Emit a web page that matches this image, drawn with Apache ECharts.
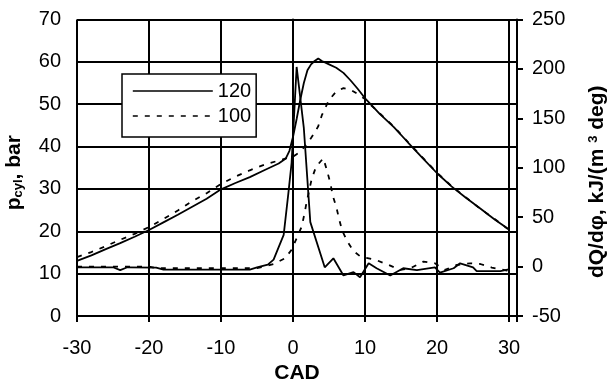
<!DOCTYPE html>
<html>
<head>
<meta charset="utf-8">
<script src="https://cdn.jsdelivr.net/npm/echarts@6/dist/echarts.min.js"></script>
<style>
  html, body { margin: 0; padding: 0; background: #fff; }
  #main { width: 610px; height: 380px; }
</style>
</head>
<body>
<div id="main"></div>
<script>
// crank angle grid for pressure curves
var cadP = [-30, -28, -26, -24, -22, -20, -18, -16, -14, -12, -10, -8, -6, -4, -2, -1, -0.5, 0, 0.5, 1, 1.5, 2, 2.5, 3, 3.5, 4, 5, 6, 7, 8, 9, 10, 11, 12, 14, 16, 18, 20, 22, 24, 26, 28, 30];
var p120 = [13.0, 14.3, 15.8, 17.2, 18.7, 20.3, 22.1, 23.9, 25.8, 27.7, 29.9, 31.4, 32.8, 34.4, 36.0, 37.2, 39.0, 42.3, 46.5, 51.0, 55.0, 58.0, 59.4, 60.2, 60.8, 60.2, 59.4, 58.6, 57.4, 55.6, 53.6, 51.4, 49.6, 47.8, 44.6, 40.9, 37.3, 33.7, 30.6, 27.9, 25.4, 22.8, 20.4];
var p100 = [13.9, 15.1, 16.5, 18.0, 19.4, 21.0, 22.9, 24.9, 27.1, 29.0, 31.2, 32.9, 34.4, 35.7, 36.7, 37.2, 37.4, 37.6, 38.2, 38.9, 39.8, 40.8, 42.0, 43.3, 44.8, 47.4, 51.0, 53.0, 53.8, 53.4, 52.4, 51.2, 49.5, 47.9, 44.7, 41.0, 37.4, 33.8, 30.7, 28.0, 25.3, 22.9, 20.3];

// heat release rate
var cadQ120 = [-30, -25, -24, -23, -19, -18, -6, -5, -3.5, -2.7, -1.3, -0.65, -0.2, 0.5, 1.5, 2.4, 4.4, 5.6, 7, 8.4, 9.3, 10.5, 11.6, 13.5, 15.3, 17.2, 19.7, 20.4, 22.3, 23.2, 25, 25.5, 28.8, 30.1];
var dq120 = [-0.7, -0.7, -3.5, -0.7, -1, -3, -3, -0.7, 2, 7, 32, 74, 105, 202, 140, 45, -0.7, 8.4, -9, -5.6, -10.8, 3.3, -1.7, -9, -1.7, -3.5, -0.7, -6.2, -1.7, 3.3, -0.7, -4.6, -4.6, -2.5];
var cadQ100 = [-30, -20, -19, -7, -5, -4, -2.7, -1.1, -0.2, 0.5, 1.2, 1.6, 1.9, 2.6, 3.2, 4.2, 4.7, 5.2, 5.5, 6.0, 6.4, 6.8, 7.5, 8.4, 9.3, 10, 11.5, 13.3, 14.9, 16.3, 18.1, 19.7, 21.1, 22.7, 24.6, 26, 27.6, 29.7, 30.1];
var dq100 = [0, 0, -1.7, -1.7, -1.5, 0, 2.6, 8.4, 17, 28.6, 40.4, 54, 65.7, 89, 101, 109.6, 97.7, 84, 72, 60.6, 48, 37, 25.8, 15.6, 10.5, 9, 6.7, 1.6, -3.4, -1.7, 5, 3.3, -3.4, 1.6, 3.3, 2.6, -1, -4, -2.7];

var xTicks = [-30, -20, -10, 0, 10, 20, 30];
var names = ['120', '100'];

var font = 'Liberation Sans, Arial, sans-serif';

function pairs(xs, ys) {
  var out = [];
  for (var i = 0; i < xs.length; i++) {
    out.push([xs[i], ys[i]]);
  }
  return out;
}

function lineSeries(name, yIdx, data, dashed) {
  return {
    name: name,
    type: 'line',
    yAxisIndex: yIdx,
    symbol: 'none',
    smooth: false,
    lineStyle: {
      color: '#000',
      width: 1.8,
      type: dashed ? [5, 7] : 'solid'
    },
    itemStyle: { color: '#000' },
    data: data
  };
}

var chart = echarts.init(document.getElementById('main'), null, { renderer: 'canvas' });

var option = {
  animation: false,
  backgroundColor: '#fff',
  textStyle: { fontFamily: font, color: '#000' },
  grid: {
    left: 77,
    right: 93,
    top: 19.5,
    bottom: 64,
    outerBoundsMode: 'none'
  },
  legend: {
    orient: 'vertical',
    left: 122,
    top: 74,
    data: names,
    itemWidth: 80,
    itemHeight: 14,
    itemGap: 5,
    padding: [7, 5, 11, 10],
    borderColor: '#000',
    borderWidth: 1.5,
    borderRadius: 0,
    backgroundColor: '#fff',
    itemStyle: { opacity: 0 },
    lineStyle: { width: 1.6 },
    textStyle: { fontSize: 20, color: '#000', fontFamily: font }
  },
  xAxis: {
    type: 'value',
    min: -30,
    max: 31.1,
    interval: 10,
    name: 'CAD',
    nameLocation: 'middle',
    nameGap: 44,
    nameTextStyle: { fontSize: 21, fontWeight: 'bold', color: '#000' },
    axisLine: { onZero: false, lineStyle: { color: '#000', width: 2 } },
    axisTick: { length: 6, lineStyle: { color: '#000', width: 2 } },
    axisLabel: {
      margin: 22,
      fontSize: 20,
      color: '#000',
      formatter: function (v) {
        return xTicks.indexOf(v) >= 0 ? String(v) : '';
      }
    },
    splitLine: { show: true, lineStyle: { color: '#000', width: 2 } }
  },
  yAxis: [{
    type: 'value',
    position: 'left',
    min: 0,
    max: 70,
    interval: 10,
    name: '{b|p}{s|cyl}{b|, bar}',
    nameLocation: 'middle',
    nameRotate: 90,
    nameGap: 52,
    nameTextStyle: {
      padding: [0, 10, 0, 0],
      rich: {
        b: { fontSize: 21, fontWeight: 'bold', color: '#000', fontFamily: font, lineHeight: 22, verticalAlign: 'bottom' },
        s: { fontSize: 13, fontWeight: 'bold', color: '#000', fontFamily: font, lineHeight: 13, verticalAlign: 'bottom' }
      }
    },
    axisLine: { show: true, lineStyle: { color: '#000', width: 2 } },
    axisTick: { show: true, length: 7, lineStyle: { color: '#000', width: 2 } },
    axisLabel: { margin: 16, fontSize: 20, color: '#000' },
    splitLine: { show: true, lineStyle: { color: '#000', width: 2 } }
  }, {
    type: 'value',
    position: 'right',
    min: -50,
    max: 250,
    interval: 50,
    name: '{b|dQ/dφ, kJ/(m }{u|3}{b| deg)}',
    nameLocation: 'middle',
    nameRotate: 90,
    nameGap: 70,
    nameTextStyle: {
      padding: [0, 28, 0, 0],
      rich: {
        b: { fontSize: 21, fontWeight: 'bold', color: '#000', fontFamily: font, lineHeight: 22, verticalAlign: 'top' },
        u: { fontSize: 13, fontWeight: 'bold', color: '#000', fontFamily: font, lineHeight: 13, verticalAlign: 'top' }
      }
    },
    axisLine: { show: true, lineStyle: { color: '#000', width: 2 } },
    axisTick: { show: true, length: 6, lineStyle: { color: '#000', width: 2 } },
    axisLabel: { margin: 15, fontSize: 20, color: '#000' },
    splitLine: { show: false }
  }],
  series: [
    lineSeries(names[0], 0, pairs(cadP, p120), false),
    lineSeries(names[1], 0, pairs(cadP, p100), true),
    lineSeries(names[0], 1, pairs(cadQ120, dq120), false),
    lineSeries(names[1], 1, pairs(cadQ100, dq100), true)
  ]
};

chart.setOption(option);
</script>
</body>
</html>
